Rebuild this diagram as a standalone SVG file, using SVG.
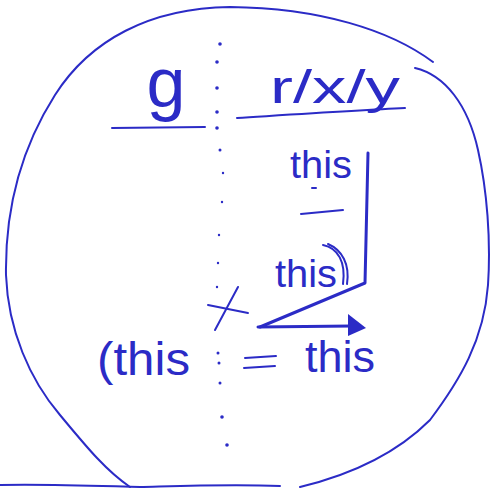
<svg xmlns="http://www.w3.org/2000/svg" width="490" height="488" viewBox="0 0 490 488">
<style>
.ink{fill:none;stroke:#2b2bc6;stroke-width:2;stroke-linecap:round;stroke-linejoin:round}
.thick{stroke-width:3}
.t{fill:#2b2bc6;font-family:"Liberation Sans","DejaVu Sans",sans-serif}
.dot{fill:#2b2bc6}
</style>
<rect width="490" height="488" fill="#ffffff"/>
<!-- outer circle (hand drawn) -->
<path class="ink" d="M433,62 C390,30 320,8 230,7 C150,8 90,40 55,95 C20,150 5,210 6,275 C8,330 30,380 60,415 C85,445 105,470 130,487"/>
<path class="ink" d="M415,68 C445,75 468,105 478,150 C487,190 491,240 488,285 C484,340 460,380 430,420 C395,455 350,475 300,487"/>
<path class="ink" d="M0,485 C50,484 100,486 140,487 C180,486 230,484 280,486"/>
<!-- dotted vertical line -->
<g id="divider" class="dot">
<circle cx="220" cy="44" r="1.8"/><circle cx="217" cy="62" r="1.8"/><circle cx="217" cy="88" r="1.8"/>
<circle cx="217" cy="112" r="1.8"/><circle cx="217" cy="128" r="1.8"/><circle cx="220" cy="150" r="1.5"/>
<circle cx="223" cy="173" r="1.2"/><circle cx="222" cy="202" r="1.2"/><circle cx="219" cy="235" r="1.2"/>
<circle cx="218" cy="263" r="1.2"/><circle cx="217" cy="287" r="1.2"/><circle cx="218" cy="353" r="1.5"/>
<circle cx="219" cy="363" r="1.5"/><circle cx="220" cy="383" r="1.5"/><circle cx="222" cy="417" r="1.8"/>
<circle cx="227" cy="445" r="1.8"/>
</g>
<!-- left header -->
<g id="g-header">
<text class="t" x="166" y="107" font-size="70" text-anchor="middle">g</text>
<path class="ink" d="M112,128 L205,127"/>
</g>
<!-- right header -->
<g id="rxy-header">
<text class="t" x="270" y="103" font-size="46" textLength="130" lengthAdjust="spacingAndGlyphs">r/x/y</text>
<path class="ink" d="M237,118 C300,114 360,110 405,108"/>
</g>
<!-- fraction stack -->
<g id="fraction">
<text class="t" x="290" y="178" font-size="38" textLength="62" lengthAdjust="spacingAndGlyphs">this</text>
<path class="ink" d="M312,188 L316,188"/>
<path class="ink" d="M301,214 L343,210"/>
<text class="t" x="275" y="287" font-size="38" textLength="62" lengthAdjust="spacingAndGlyphs">this</text>
<path class="ink" d="M323,245 C338,248 346,262 343,284"/>
<path class="ink" d="M328,244 C342,250 350,264 347,284"/>
</g>
<!-- bracket / connector -->
<g id="connectors">
<path class="ink thick" d="M368,153 L365,283 L260,327"/>
<path class="ink thick" d="M258,327 L352,326"/>
<path d="M348,314 L366,328 L348,336 Z" fill="#2b2bc6"/>
<path class="ink" d="M208,305 L248,313"/>
<path class="ink" d="M238,287 L215,330"/>
</g>
<!-- bottom equation -->
<g id="equation">
<text class="t" x="97" y="375" font-size="46" textLength="93" lengthAdjust="spacingAndGlyphs">(this</text>
<path class="ink" d="M245,358 L276,356"/>
<path class="ink" d="M244,368 L275,366"/>
<text class="t" x="305" y="372" font-size="44" textLength="70" lengthAdjust="spacingAndGlyphs">this</text>
</g>
</svg>
